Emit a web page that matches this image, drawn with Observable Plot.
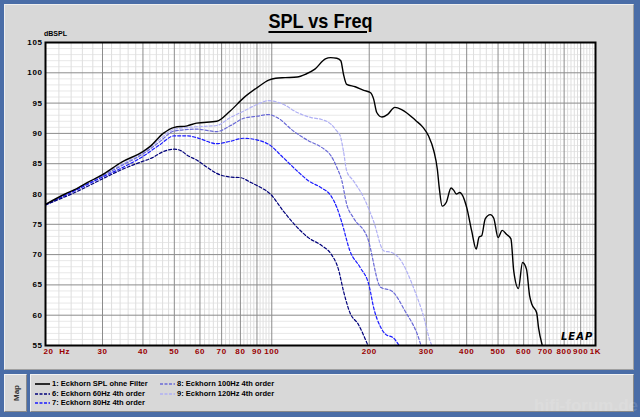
<!DOCTYPE html>
<html>
<head>
<meta charset="utf-8">
<script src="https://cdn.jsdelivr.net/npm/d3@7"></script>
<script src="https://cdn.jsdelivr.net/npm/@observablehq/plot@0.6"></script>
<style>
  html, body { margin: 0; padding: 0; background: #4a6da7; }
  #wrap { position: relative; width: 640px; height: 417px; overflow: hidden; background: #4a6da7; font-family: "Liberation Sans", Arial, sans-serif; }
  .panel { position: absolute; background: #d8d8d8; box-sizing: border-box; }
  #top { left: 4px; top: 4px; width: 630px; height: 366px; border-top: 1px solid #eeeeee; border-left: 1px solid #eeeeee; border-right: 1px solid #a0a0a0; border-bottom: 1px solid #a0a0a0; }
  #tab { left: 4px; top: 374px; width: 23px; height: 38px; border-top: 1px solid #f2f2f2; border-left: 1px solid #f2f2f2; border-right: 1px solid #8a8a8a; border-bottom: 1px solid #8a8a8a; }
  #legbox { left: 30px; top: 374px; width: 604px; height: 38px; border-top: 1px solid #f2f2f2; border-left: 1px solid #f2f2f2; border-right: 1px solid #8a8a8a; border-bottom: 1px solid #8a8a8a; }
  #title { position: absolute; left: 0; width: 640px; top: 9px; text-align: center; font-family: "Liberation Sans", Arial, sans-serif; font-weight: bold; font-size: 21px; color: #000; }
  #title span { display: inline-block; transform: scaleX(0.86); text-decoration: underline; text-decoration-thickness: 2px; text-underline-offset: 3px; }
  #ylab { position: absolute; left: 44px; top: 30px; font-size: 7px; font-weight: bold; color: #000; }
  #chart { position: absolute; left: 0; top: 0; }
  #chart text { letter-spacing: 0.6px; }
  #maptxt { position: absolute; left: 15.5px; top: 393px; transform: translate(-50%, -50%) rotate(-90deg); font-size: 8px; font-weight: bold; color: #333; }
  .leg { position: absolute; font-size: 7.5px; font-weight: bold; color: #000; white-space: nowrap; line-height: 9px; }
  .leg svg { vertical-align: middle; margin-right: 2px; }
  #leap { position: absolute; left: 561px; top: 331px; font-family: "DejaVu Sans", sans-serif; font-weight: bold; font-style: italic; font-size: 10px; letter-spacing: 1px; color: #000; }
  #wm { position: absolute; right: 2px; top: 396px; font-size: 17px; font-weight: bold; color: rgba(255,255,255,0.15); }
</style>
</head>
<body>
<div id="wrap">
  <div class="panel" id="top"></div>
  <div class="panel" id="tab"></div>
  <div class="panel" id="legbox"></div>
  <div id="title"><span>SPL vs Freq</span></div>
  <div id="ylab">dBSPL</div>
  <div id="chart"></div>
  <div id="leap">LEAP</div>
  <div id="maptxt">Map</div>
  <div id="legend"></div>
  <div id="wm">hifi-forum.de</div>
</div>
<script>
// ---- tick labels ----
const yTicks = [55, 60, 65, 70, 75, 80, 85, 90, 95, 100, 105];
const xTicks = [30, 40, 50, 60, 70, 80, 90, 100, 200, 300, 400, 500, 600, 700, 800, 900, 1000];
const xTickLabels = ["30", "40", "50", "60", "70", "80", "90", "100", "200", "300", "400", "500", "600", "700", "800", "900", "1K"];
const xFirstLabel = "20  Hz";

// ---- series ----
const names = ["1: Eckhorn SPL ohne Filter", "6: Eckhorn 60Hz 4th order", "7: Eckhorn 80Hz 4th order", "8: Eckhorn 100Hz 4th order", "9: Eckhorn 120Hz 4th order"];
const colors = ["#000000", "#00007a", "#1a1aff", "#6a6ad6", "#b0b0f4"];

const f1 = [20, 23, 25, 27, 30, 34.5, 40, 42.2, 46.2, 50, 54.8, 58.6, 67.6, 74.4, 82, 90.4, 97.8, 102.8, 110, 119.8, 127.6, 135.9, 146.4, 152, 158.8, 163.4, 166.5, 170.4, 181, 192.4, 201.5, 206.3, 211, 219, 227.6, 240, 252.6, 278.8, 293.3, 304.8, 316.7, 324.8, 329, 336, 345.8, 358, 365, 371.5, 381, 400, 414.5, 428, 437, 445, 456.4, 473, 485, 500, 515, 532, 548, 559, 578, 595, 612, 626, 636, 658, 667, 685];
const db1 = [78.3, 80.0, 80.9, 81.9, 83.2, 85.3, 87.0, 87.9, 90.0, 91.0, 91.25, 91.7, 92.0, 93.7, 95.9, 97.6, 98.8, 99.1, 99.2, 99.3, 99.8, 100.6, 102.3, 102.5, 102.4, 102.0, 99.8, 98.1, 97.7, 97.1, 96.75, 95.7, 93.45, 92.7, 93.1, 94.3, 93.9, 92.1, 91.0, 89.6, 87.1, 84.0, 81.1, 78.0, 78.6, 81.0, 80.6, 80.0, 80.25, 77.8, 73.9, 70.9, 72.9, 73.1, 75.9, 76.6, 76.0, 72.8, 74.0, 73.3, 72.6, 67.3, 64.4, 68.7, 67.6, 63.2, 61.8, 60.4, 57.9, 55.0];

const f6 = [20, 25, 30, 35, 40, 42.8, 46.2, 50, 52.6, 54.8, 58.6, 63.2, 67.6, 74.4, 80, 86.2, 92.2, 99, 108.5, 119.8, 129.7, 142.5, 152.4, 160.6, 166.5, 174.4, 185, 197.5];
const db6 = [78.2, 80.4, 82.5, 84.2, 85.4, 86.0, 87.0, 87.4, 87.1, 86.4, 85.6, 84.4, 83.4, 82.8, 82.7, 81.9, 81.1, 80.0, 77.2, 74.5, 72.8, 71.5, 70.1, 67.6, 64.0, 60.4, 58.5, 55.2];

const f7 = [20, 25, 30, 35, 40, 45, 50, 54.8, 58.6, 67.6, 74.4, 82, 90.4, 97.8, 108.5, 119.8, 129.7, 142.5, 152.4, 158.8, 164.6, 174.4, 187.4, 199.8, 206.3, 217, 225.3, 237, 246.6];
const db7 = [78.2, 80.7, 82.8, 84.5, 86.2, 88.1, 89.6, 89.6, 89.3, 88.3, 88.7, 89.2, 88.9, 88.2, 86.0, 83.8, 82.2, 81.0, 79.7, 77.8, 75.3, 70.6, 67.9, 64.9, 61.3, 58.0, 56.8, 56.3, 55.1];

const f8 = [20, 25, 30, 35, 40, 45, 50, 58.6, 67.6, 74.4, 82, 90.4, 97.8, 104, 116.6, 129.7, 142.5, 152.4, 158.8, 164.6, 170.4, 178.6, 197.5, 217, 234.6, 258, 286, 289];
const db8 = [78.2, 80.8, 83.0, 84.9, 86.6, 88.6, 90.4, 90.7, 90.3, 91.25, 92.5, 92.85, 93.1, 92.6, 90.4, 88.8, 87.7, 86.3, 84.4, 82.2, 78.3, 76.1, 72.8, 64.6, 64.0, 60.7, 55.8, 55.0];

const f9 = [20, 25, 30, 35, 40, 45, 50, 58.6, 67.6, 74.4, 82, 90.4, 97.8, 108.5, 119.8, 132.5, 142.5, 152.4, 158.8, 162.7, 166.5, 170.4, 178.6, 192.4, 206, 222, 234.6, 246.6, 278.8, 293, 308, 312];
const db9 = [78.2, 80.9, 83.2, 85.1, 86.8, 89.0, 90.7, 91.1, 91.3, 92.6, 93.7, 94.8, 95.4, 94.8, 93.45, 92.6, 92.3, 91.5, 90.4, 89.6, 87.1, 83.8, 82.2, 79.4, 75.6, 70.6, 70.35, 69.5, 63.5, 60.2, 55.8, 55.0];

const series = [[f1, db1], [f6, db6], [f7, db7], [f8, db8], [f9, db9]];

// ---- grid positions ----
const majorX = [20, ...xTicks];
const minorX = [];
for (const dec of [10, 100]) {
  for (let m = 2; m < 10; m += 0.2) {
    const v = Math.round(m * dec * 10) / 10;
    if (v >= 20 && v <= 1000 && Math.abs(v / dec - Math.round(v / dec)) > 1e-6) minorX.push(v);
  }
}
const majorY = yTicks;
const minorY = d3.range(55, 106, 1).filter(v => v % 5 !== 0);

const lineMarks = [];
[4, 3, 2, 1, 0].forEach(i => {
  const [f, d] = series[i];
  const data = f.map((x, k) => ({f: x, db: d[k]}));
  lineMarks.push(Plot.line(data, {
    x: "f", y: "db", stroke: colors[i],
    strokeWidth: i === 0 ? 1.4 : 1.2,
    strokeDasharray: i === 0 ? null : "3,2",
    curve: "monotone-x", clip: true
  }));
});

const chart = Plot.plot({
  width: 640, height: 417,
  marginLeft: 45, marginRight: 45, marginTop: 42, marginBottom: 72,
  style: {background: "transparent", fontFamily: "'Liberation Sans', Arial, sans-serif", overflow: "visible"},
  x: {type: "log", domain: [20, 1000], label: null, axis: null},
  y: {domain: [55, 105], label: null, axis: null},
  marks: [
    Plot.frame({fill: "white", stroke: null}),
    Plot.ruleY(minorY, {stroke: "#e8e8e8", strokeWidth: 1}),
    Plot.ruleX(minorX, {stroke: "#dedede", strokeWidth: 1}),
    Plot.ruleY(majorY, {stroke: "#8c8c8c", strokeWidth: 1}),
    Plot.ruleX(majorX, {stroke: "#8c8c8c", strokeWidth: 1}),
    ...lineMarks,
    Plot.frame({stroke: "#000", strokeWidth: 2, fill: null}),
    Plot.text(yTicks, {y: d => d, text: d => String(d), frameAnchor: "left", dx: -3, textAnchor: "end", fontWeight: "bold", fontSize: 8, fill: "#000"}),
    Plot.text(xTicks, {x: d => d, text: (d, i) => xTickLabels[i], frameAnchor: "bottom", dy: 8, fontWeight: "bold", fontSize: 8, fill: "#990000"}),
    Plot.text([xFirstLabel], {frameAnchor: "bottom-left", dx: -2, dy: 8, textAnchor: "start", fontWeight: "bold", fontSize: 8, fill: "#990000"})
  ]
});
document.getElementById("chart").appendChild(chart);

// ---- legend ----
const legPos = [[35, 383.5], [35, 393], [35, 402.5], [160, 383.5], [160, 393]];
const legend = document.getElementById("legend");
[0, 1, 2, 3, 4].forEach((i, k) => {
  const [lx, ly] = legPos[k];
  const div = document.createElement("div");
  div.className = "leg";
  div.style.left = lx + "px";
  div.style.top = (ly - 4.5) + "px";
  const dash = i === 0 ? "" : ' stroke-dasharray="3,1.5"';
  div.innerHTML = `<svg width="15" height="4"><line x1="0" y1="2" x2="15" y2="2" stroke="${colors[i]}" stroke-width="1.6"${dash}/></svg>${names[i]}`;
  legend.appendChild(div);
});
</script>
</body>
</html>
